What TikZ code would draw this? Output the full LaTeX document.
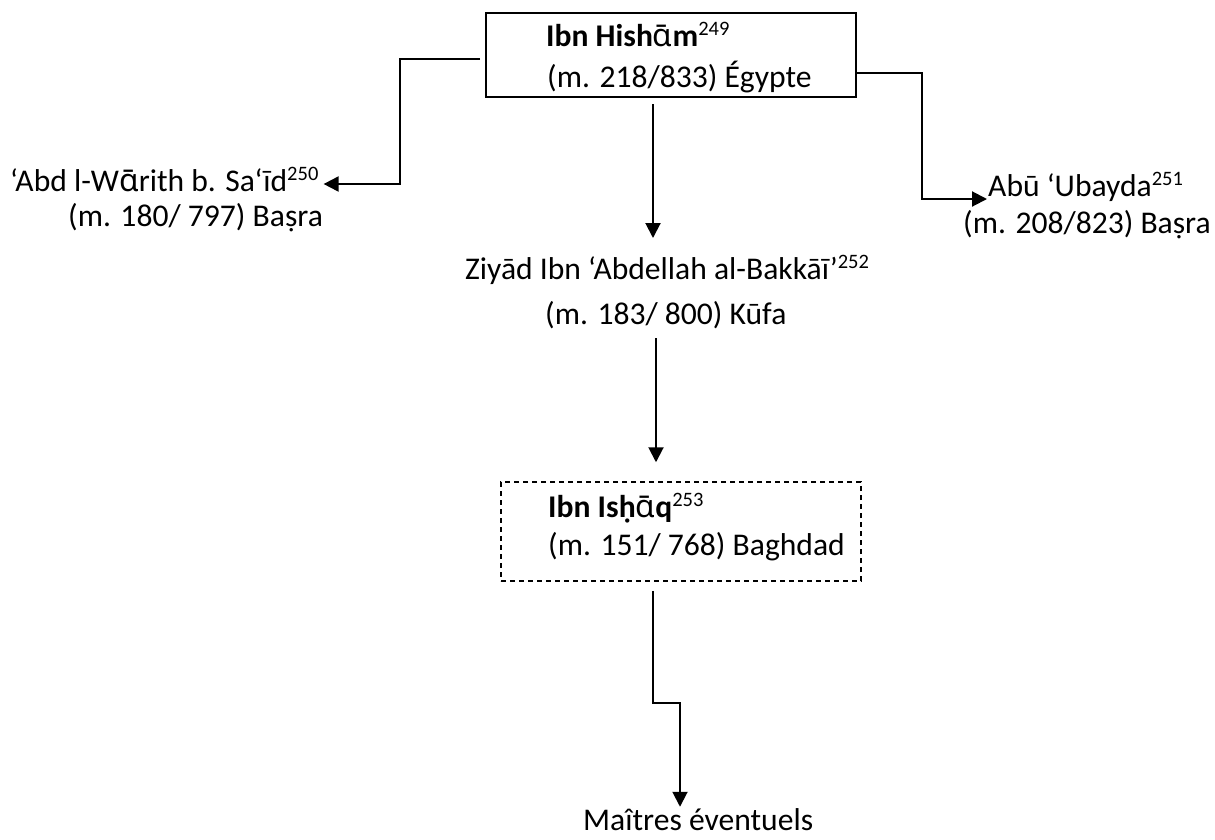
\documentclass[tikz,border=0pt]{standalone}
\usepackage{fontspec}
\setmainfont{Carlito}
\newfontfamily\grk{Noto Sans}
\usetikzlibrary{arrows.meta,calc}
\newcommand\supx[1]{\raisebox{11pt}{\fontsize{20.5}{20.5}\selectfont\mdseries #1}}
\tikzset{
  txt/.style={inner sep=0pt, font=\fontsize{31.6}{38}\selectfont},
  btxt/.style={inner sep=0pt, font=\fontsize{31.6}{38}\selectfont\bfseries},
  solidbox/.style={draw, line width=2pt, inner sep=0pt},
  dashbox/.style={draw, line width=1.5pt, inner sep=0pt, dash pattern=on 5pt off 4pt},
  conn/.style={line width=2pt, -{Triangle[length=15pt,width=15pt]}},
}
\begin{document}
\begin{tikzpicture}[x=1pt,y=-1pt]
\useasboundingbox (0,0) rectangle (1215,839);
% top box
\node[solidbox, minimum width=370pt, minimum height=84pt] (hisham) at (671,55) {};
\node[btxt, anchor=base west] (hisham1) at (546,46) {Ibn Hish{\grk ᾱ}m\supx{249}};
\node[txt, anchor=base west] (hisham2) at (547,87) {(m. 218/833) Égypte};
% left label
\node[txt, anchor=base west] (abd1) at (10,191) {‘Abd l-W{\grk ᾱ}rith b. Sa‘īd\supx{250}};
\node[txt, anchor=base west] (abd2) at (68,226) {(m. 180/ 797) Baṣra};
% right label
\node[txt, anchor=base west] (abu1) at (988,196) {Abū ‘Ubayda\supx{251}};
\node[txt, anchor=base west] (abu2) at (963,233) {(m. 208/823) Baṣra};
% middle label
\node[txt, anchor=base west] (ziyad1) at (465,279) {Ziyād Ibn ‘Abdellah al-Bakkāī’\supx{252}};
\node[txt, anchor=base west] (ziyad2) at (545,324) {(m. 183/ 800) Kūfa};
% dashed box
\node[dashbox, minimum width=360pt, minimum height=99pt] (ishaq) at (681,531.5) {};
\node[btxt, anchor=base west] (ishaq1) at (548,517) {Ibn Isḥ{\grk ᾱ}q\supx{253}};
\node[txt, anchor=base west] (ishaq2) at (548,555) {(m. 151/ 768) Baghdad};
% bottom label
\node[txt, anchor=base west] (maitres) at (583,830) {Maîtres éventuels};
% free ends / guide coordinates
\coordinate (zt) at (653,238);
\coordinate (ax) at (656,0);
% connectors
\draw[conn] ([xshift=-5pt,yshift=-4pt]hisham.west) -- ++(-80,0) |- ([xshift=5pt,yshift=7pt]abd1.base east);
\draw[conn] ([xshift=-1pt,yshift=-18pt]hisham.east) -- ++(66,0) |- ([xshift=-1pt,yshift=-3pt]abu1.base west);
\draw[conn] ($(hisham.south -| zt)+(0,6)$) -- (zt);
\draw[conn] ($(ishaq.north -| ax)+(0,-143)$) -- ($(ishaq.north -| ax)+(0,-19)$);
\draw[conn] ($(ishaq.south)+(-28,9)$) -- ++(0,112) -- ++(27,0) -- ++(0,104);
\end{tikzpicture}
\end{document}
